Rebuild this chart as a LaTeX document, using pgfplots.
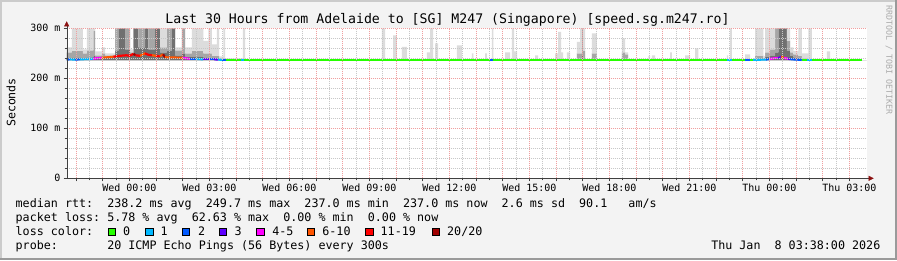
\documentclass[border=0pt]{standalone}
\usepackage{pgfplots}
\pgfplotsset{compat=1.18}
\usepackage{pgfplotstable}
\usepackage{fontspec}
\usetikzlibrary{arrows.meta}
\setmainfont{DejaVu Sans Mono}
\frenchspacing

\definecolor{bgc}{HTML}{F3F3F3}
\definecolor{shadeA}{HTML}{CBCBCB}
\definecolor{shadeB}{HTML}{9A9A9A}
\definecolor{mgrid}{HTML}{F0A0A0}
\definecolor{ngrid}{HTML}{C8C8C8}
\definecolor{arrowc}{HTML}{8B1010}
\definecolor{axisc}{HTML}{404040}
\definecolor{wmc}{HTML}{ABABAB}
\definecolor{smokeL}{HTML}{DCDCDC}
\definecolor{smokeM}{HTML}{A6A6A6}
\definecolor{smokeD}{HTML}{707070}
\definecolor{lc0}{HTML}{26FF00}
\definecolor{lc1}{HTML}{00B8FF}
\definecolor{lc2}{HTML}{0059FF}
\definecolor{lc3}{HTML}{5E00FF}
\definecolor{lc4}{HTML}{FF00FF}
\definecolor{lc5}{HTML}{FF5500}
\definecolor{lc6}{HTML}{FF0000}
\definecolor{lc7}{HTML}{A00000}

% smoke: hours from Wed 00:00, top of light / medium / dark bands (ms)
\pgfplotstableread{
h L M D
-2.350 262 252 240
-2.160 300 255 242
-1.748 258 250 240
-1.598 300 256 242
-1.350 300 295 245
-1.286 254 246 240
-1.035 262 250 242
-0.911 250 246 242
-0.536 300 300 255
-0.413 300 300 300
-0.161 300 300 258
0.026 258 252 248
0.150 300 300 300
0.338 300 300 262
0.589 300 300 300
0.713 300 300 258
0.964 300 300 300
1.151 300 262 252
1.403 300 300 255
1.590 300 300 300
1.714 262 256 246
1.965 300 300 250
2.089 262 250 244
2.340 300 255 244
2.775 275 250 242
2.963 300 250 241
3.090 268 245 240
3.278 300 245 240
3.364 244 240 238
3.525 300 240 238
3.589 240 238 237
4.253 300 238 237
4.339 236 236 236
9.465 300 236 236
9.589 236 236 236
9.889 286 236 236
10.028 236 236 236
10.215 263 236 236
10.403 236 236 236
11.153 252 236 236
11.276 300 236 236
11.389 236 236 236
11.464 270 236 236
11.576 236 236 236
12.278 266 236 236
12.465 236 236 236
12.840 250 236 236
12.900 236 236 236
13.339 250 236 236
13.403 236 236 236
13.590 300 236 236
13.650 236 236 236
14.089 252 236 236
14.276 236 236 236
14.340 300 236 236
14.426 254 236 236
14.539 236 236 236
15.214 246 236 236
15.326 236 236 236
15.964 250 236 236
16.076 293 236 236
16.189 252 236 236
16.264 236 236 236
16.403 252 236 236
16.526 236 236 236
16.778 273 250 236
16.901 300 250 238
16.965 300 300 245
17.025 300 255 240
17.089 236 236 236
17.340 290 250 238
17.528 236 236 236
18.465 280 252 240
18.589 252 248 238
18.701 236 236 236
19.463 245 236 236
19.526 236 236 236
19.590 246 236 236
19.714 236 236 236
20.276 252 236 236
20.340 236 236 236
20.839 246 236 236
21.026 236 236 236
21.214 260 236 236
21.338 236 236 236
22.403 246 236 236
22.451 236 236 236
22.526 300 236 236
22.590 236 236 236
23.089 248 236 236
23.276 236 236 236
23.464 300 245 238
23.775 245 240 237
23.839 300 252 243
24.026 300 258 246
24.214 300 300 252
24.338 300 300 300
24.653 300 275 255
24.776 262 252 245
24.900 255 248 242
25.088 300 245 240
25.215 250 240 237
25.463 300 238 237
25.590 236 236 236
26.153 254 236 236
26.276 236 236 236
27.650 236 236 236
}\smoke

% median rtt (ms) and loss class (0..7)
\pgfplotstableread{
h y c
-2.350 237.5 2
-2.224 238 1
-2.036 237.5 2
-1.849 238 1
-1.361 239 4
-1.249 240 4
-1.035 241 5
-0.600 243 6
-0.499 244 6
-0.349 245 6
-0.124 246 6
0.026 245 6
0.150 249 7
0.233 246 6
0.401 245 5
0.589 250 6
0.701 247 6
0.851 246 5
1.001 245 6
1.151 244 5
1.264 248 7
1.339 242 5
2.014 241 4
2.126 240 4
2.276 239 2
2.501 239 1
2.764 238 3
3.026 238 2
3.176 238 3
3.326 237.5 1
3.476 237 2
3.626 237 0
4.189 237 1
4.301 237 0
13.526 237 2
13.639 237 0
22.403 237 1
22.590 237 0
23.089 237 2
23.276 237 0
23.389 237 1
23.876 237.5 2
24.026 239 4
24.176 240 4
24.326 240 3
24.439 243 5
24.551 241 4
24.701 239 3
24.776 238.5 2
24.964 237.5 2
25.215 237 0
25.403 237 1
25.590 237 0
27.490 237 0
}\median

\begin{document}
\begin{tikzpicture}[x=1pt,y=1pt]
\useasboundingbox (0,0) rectangle (897,260);
\fill[bgc] (0,0) rectangle (897,260);
\fill[shadeA] (0,258) rectangle (897,260);
\fill[shadeA] (0,0) rectangle (2,260);
\fill[shadeB] (0,0) rectangle (897,2);
\fill[shadeB] (895,0) rectangle (897,260);

\begin{axis}[
  at={(66.7pt,81.7pt)}, anchor=south west,
  scale only axis, width=800pt, height=150pt,
  xmin=-2.35, xmax=27.65, ymin=0, ymax=300,
  axis on top,
  axis background/.style={fill=white},
  axis x line=bottom, axis y line=left,
  x axis line style={-{Triangle[length=5pt,width=5pt,color=arrowc]}, shorten >=-7pt, color=axisc},
  y axis line style={-{Triangle[length=5pt,width=5pt,color=arrowc]}, shorten >=-7pt, color=axisc},
  xtick={-2,-1,...,27},
  xticklabels={{},{},Wed 00:00,{},{},Wed 03:00,{},{},Wed 06:00,{},{},Wed 09:00,{},{},Wed 12:00,{},{},Wed 15:00,{},{},Wed 18:00,{},{},Wed 21:00,{},{},Thu 00:00,{},{},Thu 03:00},
  minor x tick num=1,
  ytick={0,100,200,300},
  yticklabels={0,100 m,200 m,300 m},
  minor y tick num=4,
  grid=both,
  major grid style={mgrid, dash pattern=on 1pt off 1pt, line width=0.8pt},
  minor grid style={ngrid, dash pattern=on 1pt off 1pt, line width=0.8pt},
  tick align=outside,
  major tick length=3pt, minor tick length=2pt,
  tick style={axisc, line width=0.6pt},
  tick label style={font=\fontsize{10}{12}\selectfont, text=black},
  xticklabel style={inner sep=2pt},
  yticklabel style={inner sep=3pt},
]
\addplot[draw=none, const plot, stack plots=y, forget plot] table[x=h, y expr=236] {\smoke};
\addplot[fill=smokeD, draw=none, const plot, stack plots=y] table[x=h, y expr=\thisrow{D}-236] {\smoke} \closedcycle;
\addplot[fill=smokeM, draw=none, const plot, stack plots=y] table[x=h, y expr=\thisrow{M}-\thisrow{D}] {\smoke} \closedcycle;
\addplot[fill=smokeL, draw=none, const plot, stack plots=y] table[x=h, y expr=\thisrow{L}-\thisrow{M}] {\smoke} \closedcycle;
\addplot[mesh, shader=flat corner, line width=2.2pt, point meta=\thisrow{c},
  colormap access=direct,
  colormap={loss}{rgb255=(38,255,0) rgb255=(0,184,255) rgb255=(0,89,255) rgb255=(94,0,255) rgb255=(255,0,255) rgb255=(255,85,0) rgb255=(255,0,0) rgb255=(160,0,0)}]
  table[x=h, y=y] {\median};
\end{axis}

% title and labels
\node[anchor=base, inner sep=0, font=\fontsize{13.2}{15}\selectfont] at (447.5,236) {Last 30 Hours from Adelaide to [SG] M247 (Singapore) [speed.sg.m247.ro]};
\node[rotate=90, inner sep=0, font=\fontsize{11.6}{13}\selectfont] at (11,157.5) {Seconds};
\node[rotate=-90, inner sep=0, font=\fontsize{8.3}{10}\selectfont, text=wmc] at (889,200) {RRDTOOL / TOBI OETIKER};

% legend text
\begin{scope}[every node/.style={anchor=base west, inner sep=0, font=\fontsize{11.7}{13}\selectfont}]
\node at (15.5,52.3) {median rtt:~~238.2 ms avg~~249.7 ms max~~237.0 ms min~~237.0 ms now~~2.6 ms sd~~90.1~~~am/s};
\node at (15.5,38.3) {packet loss: 5.78 \% avg~~62.63 \% max~~0.00 \% min~~0.00 \% now};
\node at (15.5,24.3) {loss color:};
\node at (122.8,24.3) {0};
\node at (160.5,24.3) {1};
\node at (197.8,24.3) {2};
\node at (234.5,24.3) {3};
\node at (272.2,24.3) {4-5};
\node at (322.2,24.3) {6-10};
\node at (380.5,24.3) {11-19};
\node at (447.0,24.3) {20/20};
\node at (15.5,10.3) {probe:~~~~~~~20 ICMP Echo Pings (56 Bytes) every 300s};
\node[anchor=base east] at (880.5,10.3) {Thu Jan~~8 03:38:00 2026};
\end{scope}

% loss colour boxes
\foreach \bx/\cc in {108.3/lc0,145.7/lc1,182.3/lc2,219.3/lc3,256.7/lc4,307.3/lc5,365.7/lc6,432.3/lc7}{
  \filldraw[fill=\cc, draw=black, line width=0.9pt] (\bx,24.2) rectangle ++(7.6,7.6);
}
\end{tikzpicture}
\end{document}
